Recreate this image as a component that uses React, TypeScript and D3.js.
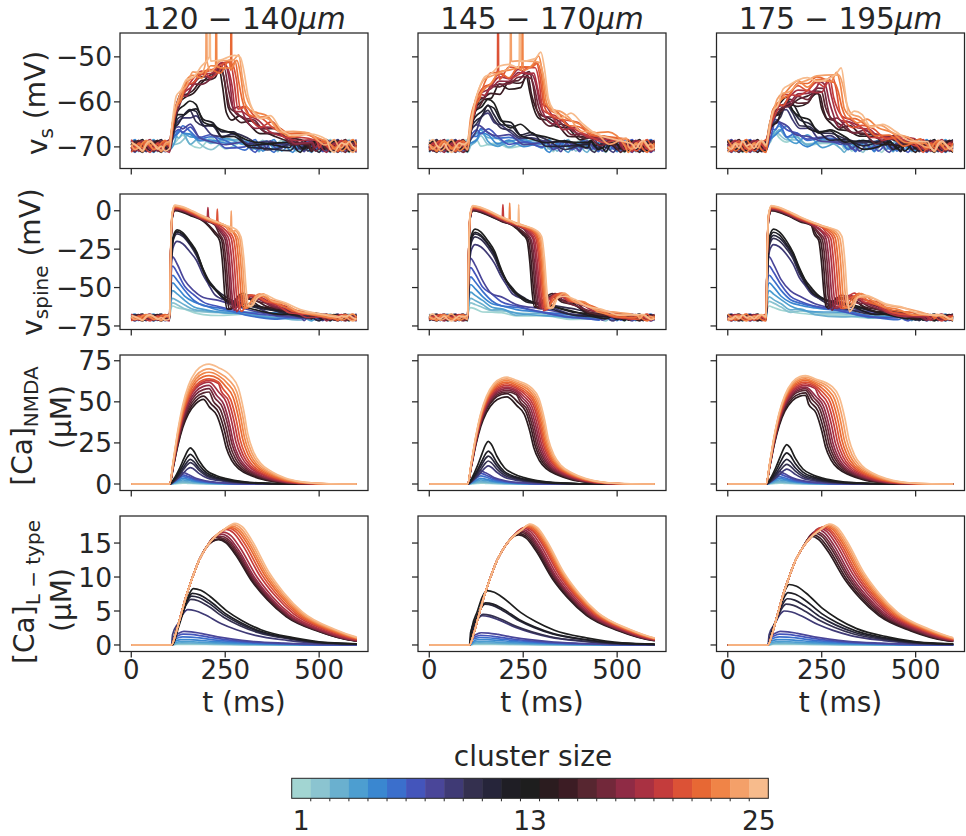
import * as d3 from 'd3'

const W = 966
const H = 836
const FONT = '"DejaVu Sans", sans-serif'
const INK = '#262626'

// time axis (ms)
const T_END = 600
const ONSET = 102 // stimulus onset in the voltage / NMDA panels
const ONSET_L = 107 // L-type calcium leaves baseline a little later
const BASE_TIMES = d3.range(0, 606, 10)

const CLUSTER_SIZES = d3.range(1, 26)
// 0 = subthreshold, 1 = partial spike, 2 = plateau
const RESPONSE_CLASS = [0, 0, 0, 0, 0, 0, 0, 0, 1, 1, 1, 1, 1, 2, 2, 2, 2, 2, 2, 2, 2, 2, 2, 2, 2]
const ICEFIRE = [
  '#a2d5d2', '#8bc4d0', '#6ab0cf', '#4d9ed0', '#3a87d0', '#3b6fcc', '#4455bb', '#4a4699',
  '#3f3a75', '#34304f', '#26253a', '#1f1e25', '#1e1e1e', '#2b1c1f', '#3c1c24', '#572630',
  '#72283a', '#8f2b45', '#a93142', '#c43c3c', '#dc5236', '#e76834', '#f08447', '#f4a069', '#f7bb8c',
]

const COLUMN_TITLES = ['120 − 140', '145 − 170', '175 − 195']
const X_TICKS = [0, 250, 500]
const VS_TICKS = [-70, -60, -50]
const VSP_TICKS = [-75, -50, -25, 0]
const NMDA_TICKS = [0, 25, 50, 75]
const LT_TICKS = [0, 5, 10, 15]
const CBAR_TICKS = [1, 13, 25]

// baseline noise seen on the voltage traces (relative units)
const JITTER = [0.3, -0.4, 0.5, 0.9, 0.2, -0.6, -0.3, -0.9, 0.1, 0.6, 0.2, -0.2, -0.7, 0.4, 0.8, 0.3, -0.5, 0.0, -0.8,
  -0.4, 0.6, 1.0, 0.1, -0.3, 0.4, -0.6, -1.0, -0.2, 0.5, 0.2, 0.7, -0.1, -0.5, 0.3, -0.3, 0.8, 0.0]
const VS_BASE = -69.8
const VSP_BASE = -69.5

// plateau end (ms), cluster sizes 14..25, per distance column
const PLATEAU_END_A = [243, 248, 253, 258, 262, 268, 274, 280, 286, 291, 296, 300]
const PLATEAU_END_B = [268, 272, 276, 280, 284, 288, 292, 295, 298, 301, 304, 307]
const PLATEAU_END_C = [250, 255, 260, 265, 270, 276, 282, 288, 294, 300, 306, 312]

// somatic voltage peak (mV), sizes 1..25
const VS_PEAK_A = [-68.5, -68, -67.5, -67, -66.5, -66, -65.5, -65, -63, -62.5, -62, -61.5, -60.5,
  -53.5, -53, -52.5, -52.5, -52, -52, -51.5, -51, -51, -50.5, -50, -49.5]
const VS_PEAK_B = [-69, -68.5, -68, -67.5, -67, -66.5, -66, -65, -63.5, -63, -62, -61, -60,
  -55, -54.5, -54, -53.5, -53, -52.5, -52, -51.5, -51, -50.5, -50, -49.5]
const VS_PEAK_C = [-68, -67.5, -67, -66.5, -66, -65.5, -65, -64, -62, -61.5, -61, -60, -59.5,
  -58.5, -58, -57.5, -57, -56.5, -56, -55.5, -55, -54.5, -54, -53.5, -53]

// spine voltage peak (mV)
const VSP_PEAK_A = [-62, -60, -57, -52, -47, -42, -36, -30, -20, -15, -14, -13.5, -12.5,
  0, 0.5, 0.8, 1, 1.3, 1.6, 2, 2.3, 2.6, 3, 3.3, 3.7]
const VSP_PEAK_B = [-63, -60, -57, -53, -48, -43, -37, -31, -22, -17, -15, -14, -12,
  0, 0.3, 0.6, 0.9, 1.2, 1.5, 1.8, 2.1, 2.4, 2.7, 3, 3.3]
const VSP_PEAK_C = [-62, -59, -56, -52, -47, -42, -36, -30, -22, -18, -16, -14, -12,
  0, 0.3, 0.6, 0.9, 1.2, 1.5, 1.8, 2.1, 2.4, 2.7, 3, 3.3]

// NMDA calcium peak (µM)
const NMDA_PEAK_A = [0.5, 1, 1.5, 2.5, 3.5, 4.5, 5.5, 7, 10, 13, 15, 18, 22,
  52, 54, 56, 58, 60, 62, 63, 64, 66, 68, 70, 73]
const NMDA_PEAK_B = [0.5, 1, 1.5, 2.5, 3.5, 5, 6.5, 8, 11, 14, 17, 20, 26,
  53, 55, 56, 57, 58, 59, 60, 61, 62, 63, 64, 65]
const NMDA_PEAK_C = [0.5, 1, 1.5, 2.5, 3.5, 4.5, 6, 7.5, 9, 12, 15, 19, 24,
  54, 55.5, 57, 58, 59, 60, 61, 62, 63, 64, 65, 66]

// L-type calcium peak (µM) and its time (ms)
const LT_PEAK_A = [0.1, 0.2, 0.3, 0.5, 0.8, 1.2, 1.6, 2.0, 5.2, 6.7, 7.2, 7.6, 8.3,
  15.5, 15.6, 15.8, 16.0, 16.3, 16.6, 17.0, 17.2, 17.3, 17.5, 17.7, 17.9]
const LT_PEAK_B = [0.1, 0.2, 0.3, 0.5, 0.8, 1.1, 1.4, 1.8, 4.3, 4.5, 6.0, 6.2, 8.0,
  16.2, 16.4, 16.6, 16.8, 17.0, 17.2, 17.3, 17.4, 17.5, 17.6, 17.7, 17.8]
const LT_PEAK_C = [0.1, 0.2, 0.3, 0.5, 0.8, 1.2, 1.6, 2.0, 5.0, 6.0, 6.8, 7.7, 8.9,
  16.0, 16.2, 16.5, 16.7, 17.0, 17.2, 17.3, 17.4, 17.5, 17.6, 17.7, 17.8]
const LT_TPEAK_A = [132, 133, 134, 135, 136, 137, 138, 140, 150, 158, 160, 162, 165,
  232, 234, 236, 238, 240, 245, 252, 258, 264, 268, 272, 276]
const LT_TPEAK_B = [130, 131, 132, 133, 134, 135, 136, 138, 140, 143, 148, 150, 153,
  238, 240, 242, 244, 246, 250, 255, 258, 261, 264, 266, 268]
const LT_TPEAK_C = [132, 133, 134, 135, 136, 137, 138, 140, 150, 155, 158, 160, 163,
  222, 226, 230, 234, 238, 244, 250, 255, 260, 264, 268, 272]

// somatic spikelets: [cluster size, t, level before the spike]
const VS_SPIKES_A = [[24, 200, -51], [25, 209, -50], [23, 226, -52], [22, 266, -53]]
const VS_SPIKES_B = [[21, 183, -53], [24, 217, -51], [25, 241, -51], [23, 248, -53]]
const VS_SPIKES_C = []
// spine spikelets: [cluster size, t, level before, tip]
const VSP_SPIKES_A = [[19, 204, -4, 2], [21, 229, -7, 1], [24, 266, -14, 0]]
const VSP_SPIKES_B = [[20, 196, -4, 4], [23, 214, -7, 5], [25, 238, -9, 4]]
const VSP_SPIKES_C = []

// waveform shapes: [anchor, dt, fraction of peak]
// anchor 0 = onset, anchor 1 = plateau end
const VS_SHAPE = [
  [[0, 0, 0], [0, 10, 0.55], [0, 25, 0.95], [0, 35, 1], [0, 55, 0.78], [0, 80, 0.52], [0, 110, 0.32], [0, 150, 0.15], [0, 200, 0.05]],
  [[0, 0, 0], [0, 10, 0.4], [0, 22, 0.72], [0, 38, 0.92], [0, 54, 1], [0, 70, 0.86], [0, 90, 0.66], [0, 115, 0.47], [0, 140, 0.35],
    [0, 170, 0.24], [0, 210, 0.13], [0, 260, 0.05], [0, 320, 0.01]],
  [[0, 0, 0], [0, 8, 0.25], [0, 18, 0.48], [0, 30, 0.6], [0, 45, 0.7], [0, 62, 0.79], [0, 85, 0.84], [0, 110, 0.88], [0, 135, 0.92],
    [1, -25, 0.97], [1, -10, 1], [1, 0, 0.78], [1, 10, 0.5], [1, 25, 0.42], [1, 45, 0.36], [1, 70, 0.29], [1, 100, 0.22],
    [1, 135, 0.15], [1, 175, 0.09], [1, 220, 0.04]],
]
const VSP_SHAPE = [
  [[0, 0, 0], [0, 3, 0.7], [0, 8, 1], [0, 20, 0.88], [0, 40, 0.63], [0, 65, 0.43], [0, 90, 0.33], [0, 130, 0.24], [0, 200, 0.12],
    [0, 280, 0.04], [0, 350, 0.01]],
  [[0, 0, 0], [0, 4, 0.65], [0, 10, 0.93], [0, 20, 1], [0, 35, 0.97], [0, 55, 0.86], [0, 72, 0.74], [0, 88, 0.57], [0, 103, 0.43],
    [0, 120, 0.32], [0, 155, 0.21], [0, 215, 0.13], [0, 290, 0.06], [0, 370, 0.02]],
  [[0, 0, 0], [0, 3, 0.6], [0, 7, 0.93], [0, 14, 1], [0, 35, 0.985], [0, 60, 0.95], [0, 90, 0.9], [0, 120, 0.86], [0, 150, 0.82],
    [1, -20, 0.78], [1, -8, 0.72], [1, 0, 0.5], [1, 6, 0.22], [1, 12, 0.08], [1, 22, 0.1], [1, 35, 0.18], [1, 55, 0.2],
    [1, 80, 0.16], [1, 110, 0.12], [1, 150, 0.07], [1, 200, 0.03], [1, 250, 0.01]],
]
const NMDA_SHAPE = [
  [[0, 0, 0], [0, 12, 0.3], [0, 25, 0.75], [0, 35, 1], [0, 48, 0.85], [0, 70, 0.5], [0, 100, 0.25], [0, 140, 0.1], [0, 200, 0.02], [0, 280, 0]],
  [[0, 0, 0], [0, 12, 0.15], [0, 25, 0.4], [0, 38, 0.7], [0, 48, 0.92], [0, 55, 1], [0, 63, 0.93], [0, 78, 0.65], [0, 98, 0.38],
    [0, 125, 0.23], [0, 150, 0.15], [0, 200, 0.06], [0, 260, 0.02], [0, 330, 0]],
  [[0, 0, 0], [0, 10, 0.2], [0, 22, 0.45], [0, 35, 0.66], [0, 50, 0.82], [0, 70, 0.94], [0, 90, 0.99], [0, 105, 1], [0, 130, 0.97],
    [1, -35, 0.9], [1, -15, 0.8], [1, 0, 0.6], [1, 10, 0.42], [1, 25, 0.27], [1, 45, 0.17], [1, 75, 0.1], [1, 110, 0.05],
    [1, 150, 0.02], [1, 200, 0.005], [1, 260, 0]],
]
// L-type: common rising envelope of the plateau traces (t, µM), rise and decay shapes around the peak
const LT_ENVELOPE = [[107, 0], [118, 1.6], [130, 4.0], [145, 7.0], [162, 9.8], [180, 12.4], [200, 14.4], [222, 15.9], [245, 16.9], [268, 17.6]]
const LT_RISE = [[-55, 0], [-40, 0.3], [-25, 0.62], [-12, 0.88], [-5, 0.97]]
const LT_DECAY = [[20, 0.97], [45, 0.86], [90, 0.6], [130, 0.43], [180, 0.27], [265, 0.13], [360, 0.04], [500, 0.01]]

// layout
const COL_X = [120, 418, 716.5]
const PANEL_W = 248
const ROW_Y = [33, 194, 355, 516]
const PANEL_H = 135.5

const PLATEAU_END = [PLATEAU_END_A, PLATEAU_END_B, PLATEAU_END_C]
const VS_PEAK = [VS_PEAK_A, VS_PEAK_B, VS_PEAK_C]
const VSP_PEAK = [VSP_PEAK_A, VSP_PEAK_B, VSP_PEAK_C]
const NMDA_PEAK = [NMDA_PEAK_A, NMDA_PEAK_B, NMDA_PEAK_C]
const LT_PEAK = [LT_PEAK_A, LT_PEAK_B, LT_PEAK_C]
const LT_TPEAK = [LT_TPEAK_A, LT_TPEAK_B, LT_TPEAK_C]
const VS_SPIKES = [VS_SPIKES_A, VS_SPIKES_B, VS_SPIKES_C]
const VSP_SPIKES = [VSP_SPIKES_A, VSP_SPIKES_B, VSP_SPIKES_C]

function shapePoints(shape, te) {
  const firstEnd = shape.find((p) => p[0] === 1)
  const cut = firstEnd ? te + firstEnd[1] - 6 : Infinity
  const pts = []
  for (const [a, dt, f] of shape) {
    const t = a === 0 ? ONSET + dt : te + dt
    if (a === 0 && t >= cut) continue
    pts.push([t, f])
  }
  return pts
}

function voltageTrace(shape, base, peak, te, jAmp, phase, damped, spikes, size) {
  const amp = peak - base
  const core = shapePoints(shape, te)
  const lastT = core[core.length - 1][0]
  const pts = []
  BASE_TIMES.forEach((t) => {
    if (t < ONSET - 2 || t > lastT + 5) pts.push([t, base, 1])
  })
  core.forEach(([t, f]) => pts.push([t, base + f * amp, damped ? 1 - f : 1]))
  pts.sort((a, b) => a[0] - b[0])
  const out = pts.map(([t, v, w]) => [t, v + JITTER[(Math.round(t / 10) + phase) % JITTER.length] * jAmp * w])
  spikes
    .filter((s) => s[0] === size)
    .forEach((s) => {
      const tip = s.length > 3 ? s[3] : -25
      out.push([s[1] - 1.5, s[2]], [s[1], tip], [s[1] + 1.5, s[2]])
    })
  return out.sort((a, b) => a[0] - b[0])
}

function calciumTrace(shape, peak, te) {
  const pts = [[0, 0]]
  shapePoints(shape, te).forEach(([t, f]) => pts.push([t, f * peak]))
  pts.push([T_END + 10, 0])
  return pts
}

function lTypeTrace(peak, tp, cls) {
  const pts = [[0, 0], [ONSET_L, 0]]
  if (cls === 2) {
    LT_ENVELOPE.forEach(([t, v]) => {
      if (t > ONSET_L && t < tp - 12) pts.push([t, v])
    })
  } else {
    LT_RISE.forEach(([dt, f]) => {
      if (tp + dt > ONSET_L + 2) pts.push([tp + dt, f * peak])
    })
  }
  pts.push([tp, peak])
  LT_DECAY.forEach(([dt, f]) => pts.push([tp + dt, f * peak]))
  return pts
}

function tracesFor(row, col) {
  return CLUSTER_SIZES.map((size, i) => {
    const cls = RESPONSE_CLASS[i]
    const te = cls === 2 ? PLATEAU_END[col][i - 13] : 0
    const phase = (i * 5 + col * 11) % JITTER.length
    let pts
    if (row === 0) pts = voltageTrace(VS_SHAPE[cls], VS_BASE, VS_PEAK[col][i], te, 1.4, phase, false, VS_SPIKES[col], size)
    else if (row === 1) pts = voltageTrace(VSP_SHAPE[cls], VSP_BASE, VSP_PEAK[col][i], te, 2.2, phase, true, VSP_SPIKES[col], size)
    else if (row === 2) pts = calciumTrace(NMDA_SHAPE[cls], NMDA_PEAK[col][i], te)
    else pts = lTypeTrace(LT_PEAK[col][i], LT_TPEAK[col][i], cls)
    return { size, color: ICEFIRE[i], pts }
  })
}

const ROWS = [
  { domain: [-74.8, -44.7], ticks: VS_TICKS },
  { domain: [-77.3, 10.9], ticks: VSP_TICKS },
  { domain: [-3.95, 78.5], ticks: NMDA_TICKS },
  { domain: [-0.96, 18.98], ticks: LT_TICKS },
]

function Panel({ row, col }) {
  const x = d3.scaleLinear().domain([-30, 630]).range([0, PANEL_W])
  const y = d3.scaleLinear().domain(ROWS[row].domain).range([PANEL_H, 0])
  const line = d3
    .line()
    .x((d) => x(d[0]))
    .y((d) => y(d[1]))
    .curve(d3.curveMonotoneX)
  const id = `clip-${row}-${col}`
  const traces = tracesFor(row, col)
  return (
    <g transform={`translate(${COL_X[col]},${ROW_Y[row]})`}>
      <clipPath id={id}>
        <rect x={0} y={0} width={x(T_END)} height={PANEL_H} />
      </clipPath>
      <g clipPath={`url(#${id})`}>
        {traces.map((t) => (
          <path key={t.size} d={line(t.pts)} fill="none" stroke={t.color} strokeWidth={1.7} strokeLinejoin="round" />
        ))}
      </g>
      <rect x={0} y={0} width={PANEL_W} height={PANEL_H} fill="none" stroke={INK} strokeWidth={1.25} />
      {ROWS[row].ticks.map((v) => (
        <g key={`y${v}`}>
          <line x1={-6} x2={0} y1={y(v)} y2={y(v)} stroke={INK} strokeWidth={1.25} />
          {col === 0 && (
            <text x={-8} y={y(v)} dy="0.36em" textAnchor="end" fontSize={26.5} fill={INK}>
              {v < 0 ? `−${-v}` : v}
            </text>
          )}
        </g>
      ))}
      {X_TICKS.map((v) => (
        <g key={`x${v}`}>
          <line x1={x(v)} x2={x(v)} y1={PANEL_H} y2={PANEL_H + 6} stroke={INK} strokeWidth={1.25} />
          {row === 3 && (
            <text x={x(v)} y={PANEL_H + 27.5} textAnchor="middle" fontSize={26} fill={INK}>
              {v}
            </text>
          )}
        </g>
      ))}
      {row === 3 && (
        <text x={PANEL_W / 2} y={PANEL_H + 60.5} textAnchor="middle" fontSize={28} fill={INK}>
          t (ms)
        </text>
      )}
      {row === 0 && (
        <text x={PANEL_W / 2} y={-4} textAnchor="middle" fontSize={29.5} fill={INK}>
          {COLUMN_TITLES[col]}
          <tspan fontStyle="italic">μm</tspan>
        </text>
      )}
    </g>
  )
}

function YLabel({ x, y, main, sub, rest }) {
  return (
    <text transform={`translate(${x},${y}) rotate(-90)`} textAnchor="middle" fontSize={28} fill={INK}>
      {main}
      <tspan fontSize={20} dy="0.3em">
        {sub}
      </tspan>
      <tspan dy="-0.3em">{rest}</tspan>
    </text>
  )
}

function ColorBar() {
  const x0 = 291.7
  const x1 = 768.3
  const y0 = 778.3
  const h = 20
  const band = d3.scaleBand().domain(CLUSTER_SIZES).range([x0, x1])
  return (
    <g>
      <text x={533} y={766} textAnchor="middle" fontSize={28} fill={INK}>
        cluster size
      </text>
      {CLUSTER_SIZES.map((s, i) => (
        <rect key={s} x={band(s)} y={y0} width={band.bandwidth() + 0.5} height={h} fill={ICEFIRE[i]} />
      ))}
      <rect x={x0} y={y0} width={x1 - x0} height={h} fill="none" stroke={INK} strokeWidth={1} />
      {CLUSTER_SIZES.slice(1).map((s) => (
        <line key={s} x1={band(s)} x2={band(s)} y1={y0 + h} y2={y0 + h + 3} stroke={INK} strokeWidth={1} />
      ))}
      {CBAR_TICKS.map((s) => (
        <text key={s} x={band(s) + band.bandwidth() / 2} y={830} textAnchor="middle" fontSize={26.5} fill={INK}>
          {s}
        </text>
      ))}
    </g>
  )
}

export default function App() {
  return (
    <svg width={W} height={H} viewBox={`0 0 ${W} ${H}`} style={{ display: 'block', background: '#fff', fontFamily: FONT }}>
      <style>{`body{margin:0}`}</style>
      {ROWS.map((_, r) => [0, 1, 2].map((c) => <Panel key={`${r}-${c}`} row={r} col={c} />))}
      <YLabel x={47} y={103} main="v" sub="s" rest=" (mV)" />
      <YLabel x={42} y={262} main="v" sub="spine" rest=" (mV)" />
      <YLabel x={32} y={426} main="[Ca]" sub="NMDA" rest="" />
      <text transform="translate(71,417) rotate(-90)" textAnchor="middle" fontSize={28} fill={INK}>
        (μM)
      </text>
      <YLabel x={34} y={592} main="[Ca]" sub="L − type" rest="" />
      <text transform="translate(71,600) rotate(-90)" textAnchor="middle" fontSize={28} fill={INK}>
        (μM)
      </text>
      <ColorBar />
    </svg>
  )
}
